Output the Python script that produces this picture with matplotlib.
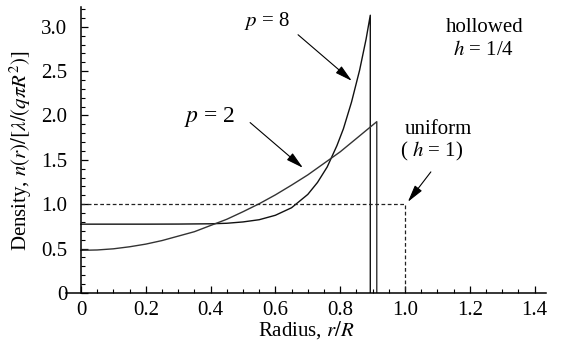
import matplotlib
matplotlib.use("Agg")
import matplotlib.pyplot as plt
from matplotlib.ticker import MultipleLocator, FuncFormatter

plt.rcParams['font.family'] = ['Liberation Serif', 'DejaVu Serif']
plt.rcParams['mathtext.fontset'] = 'stix'
plt.rcParams['font.size'] = 15

# hollowed profile h = 1/4, p = 2
r_p2 = [0, 0.05, 0.1, 0.15, 0.2, 0.25, 0.3, 0.35, 0.4, 0.45, 0.5, 0.55,
        0.6, 0.65, 0.7, 0.75, 0.8, 0.85, 0.913, 0.913]
n_p2 = [0.48, 0.484, 0.497, 0.52, 0.55, 0.59, 0.64, 0.69, 0.76, 0.83, 0.915,
        1.005, 1.105, 1.215, 1.33, 1.46, 1.59, 1.74, 1.93, 0]

# hollowed profile h = 1/4, p = 8
r_p8 = [0, 0.1, 0.2, 0.3, 0.4, 0.45, 0.5, 0.55, 0.6, 0.65, 0.7, 0.73,
        0.76, 0.79, 0.81, 0.835, 0.86, 0.88, 0.893, 0.893]
n_p8 = [0.775, 0.775, 0.775, 0.776, 0.779, 0.785, 0.80, 0.825, 0.875, 0.96,
        1.11, 1.245, 1.42, 1.66, 1.85, 2.15, 2.51, 2.86, 3.13, 0]

# uniform h = 1
r_uni = [0, 1.0, 1.0]
n_uni = [1.0, 1.0, 0]

fig = plt.figure(figsize=(5.68, 3.45), dpi=100)
ax = fig.add_axes([0.117, 0.151, 0.844, 0.828])

ax.plot(r_p8, n_p8, color='#111111', lw=1.0)
ax.plot(r_p2, n_p2, color='#333333', lw=1.0)
ax.plot(r_uni, n_uni, color='#222222', lw=0.9, ls=(0, (3, 2)))

ax.set_xlim(-0.045, 1.435)
ax.set_ylim(0, 3.22)
for s in ['top', 'right']:
    ax.spines[s].set_visible(False)
ax.spines['left'].set_position(('data', 0))
ax.spines['left'].set_linewidth(1.1)
ax.spines['bottom'].set_linewidth(1.1)

ax.xaxis.set_major_locator(MultipleLocator(0.2))
ax.xaxis.set_minor_locator(MultipleLocator(0.05))
ax.yaxis.set_major_locator(MultipleLocator(0.5))
ax.yaxis.set_minor_locator(MultipleLocator(0.1))
fmt = FuncFormatter(lambda v, pos: '0' if abs(v) < 1e-9 else f'{v:.1f}')
ax.xaxis.set_major_formatter(fmt)
ax.yaxis.set_major_formatter(fmt)
ax.tick_params(which='major', direction='in', length=5, width=0.9)
ax.tick_params(which='minor', direction='in', length=3, width=0.8)
ax.tick_params(axis='y', which='major', pad=10)
ax.tick_params(axis='x', which='major', pad=6)

ax.set_xlabel(r'Radius, $r/R$', labelpad=-1)
ax.set_ylabel(r'Density, $n(r)/[\lambda/(q\pi R^2)]$')
ax.yaxis.set_label_coords(-0.068, 0.5)

arrow = dict(arrowstyle='-|>,head_length=0.7,head_width=0.18', lw=0.8,
             color='k', shrinkA=0, shrinkB=0)
ax.text(0.574, 3.06, r'$p$ = 8', ha='center', va='center', fontsize=15)
ax.annotate('', xy=(0.836, 2.39), xytext=(0.670, 2.91), arrowprops=arrow)
ax.text(0.398, 1.98, r'$p$ = 2', ha='center', va='center', fontsize=17)
ax.annotate('', xy=(0.685, 1.41), xytext=(0.522, 1.92), arrowprops=arrow)

ax.text(1.247, 2.99, 'hollowed', ha='center', va='center', fontsize=15)
ax.text(1.241, 2.73, r'$h$ = 1/4', ha='center', va='center', fontsize=15)
ax.text(1.102, 1.84, 'uniform', ha='center', va='center', fontsize=15)
ax.text(1.083, 1.59, r'( $h$ = 1)', ha='center', va='center', fontsize=15)
ax.annotate('', xy=(1.009, 1.026), xytext=(1.080, 1.364), arrowprops=arrow)

fig.savefig('out.png', dpi=100)
